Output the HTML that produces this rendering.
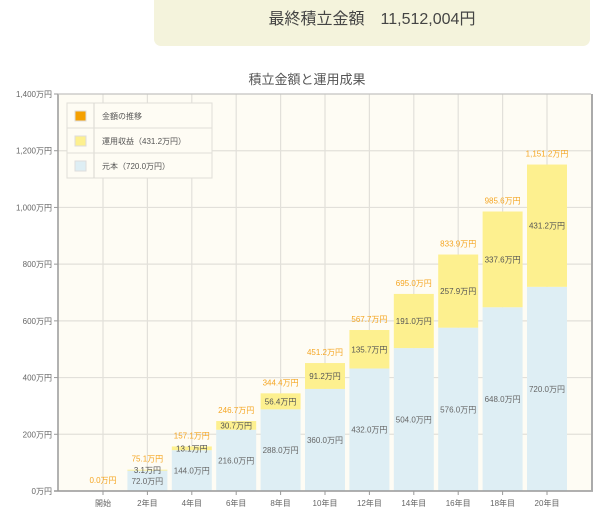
<!DOCTYPE html>
<html><head><meta charset="utf-8"><style>
body{margin:0;width:602px;height:520px;background:#fff;font-family:"Liberation Sans","Noto Sans CJK JP",sans-serif;overflow:hidden;position:relative}
#banner{position:absolute;left:154px;top:-8px;width:436px;height:54px;background:#f4f3dc;border-radius:7px;text-align:center;line-height:52px;padding-top:2px;box-sizing:border-box;font-size:16px;color:#444}
svg{position:absolute;left:0;top:0}
</style></head><body>
<div id="banner">最終積立金額　11,512,004円</div>
<svg id="chart" width="602" height="520"></svg>
<script>
const categories=["開始","2年目","4年目","6年目","8年目","10年目","12年目","14年目","16年目","18年目","20年目"];
const principal=[0,72,144,216,288,360,432,504,576,648,720];
const gains=[0,3.1,13.1,30.7,56.4,91.2,135.7,191.0,257.9,337.6,431.2];
const totals=[0,75.1,157.1,246.7,344.4,451.2,567.7,695.0,833.9,985.6,1151.2];
const yTicks=[0,200,400,600,800,1000,1200,1400];
const yTickLabels=["0万円","200万円","400万円","600万円","800万円","1,000万円","1,200万円","1,400万円"];
const legendLabels=["金額の推移","運用収益（431.2万円）","元本（720.0万円）"];

const NS="http://www.w3.org/2000/svg";
const svg=document.getElementById('chart');
const L=58,R=591,T=94,B=491,YMAX=1400;
const y=v=>B-v*(B-T)/YMAX;
const x=i=>103+i*44.4;
const BW=40;
function el(t,a,p){const e=document.createElementNS(NS,t);for(const k in a)e.setAttribute(k,a[k]);(p||svg).appendChild(e);return e;}
function tx(s,a){const e=el('text',a);e.textContent=s;return e;}
const fmt=v=>v.toLocaleString('en-US',{minimumFractionDigits:1,maximumFractionDigits:1})+"万円";

const title=tx("積立金額と運用成果",{x:307,y:84,'text-anchor':'middle','font-size':13,fill:'#555'});



const plot=el('rect',{x:L,y:T,width:R-L,height:B-T,fill:'#fefcf4'});



yTicks.forEach((v,i)=>{
  el('line',{x1:L,x2:R,y1:y(v),y2:y(v),stroke:'#e2e0da','stroke-width':1.2});
  const t=tx(yTickLabels[i],{x:52,y:y(v)+3,'text-anchor':'end','font-size':8,fill:'#666'});
  
  
  el('line',{x1:L-4,x2:L,y1:y(v),y2:y(v),stroke:'#999'});
});
categories.forEach((c,i)=>{
  el('line',{x1:x(i),x2:x(i),y1:T,y2:B,stroke:'#e2e0da','stroke-width':1.2});
});
categories.forEach((c,i)=>{
  const cx=x(i);
  if(principal[i]>0){
    const r=el('rect',{x:cx-BW/2,y:y(principal[i]),width:BW,height:B-y(principal[i]),fill:'#deeef4'});
    
    
  }
  if(gains[i]>0){
    const top=principal[i]+gains[i];
    const r=el('rect',{x:cx-BW/2,y:y(top),width:BW,height:y(principal[i])-y(top),fill:'#fdf08f'});
    
    
  }
  if(principal[i]>0){
    const t=tx(fmt(principal[i]),{x:cx,y:(y(principal[i])+B)/2+3,'text-anchor':'middle','font-size':8,fill:'#666'});
    
    
    const g=tx(fmt(gains[i]),{x:cx,y:(y(principal[i])+y(principal[i]+gains[i]))/2+3,'text-anchor':'middle','font-size':8,fill:'#555'});
    
    
  }
  const tt=tx(fmt(totals[i]),{x:cx,y:y(totals[i])-8,'text-anchor':'middle','font-size':8,fill:'#f5a623'});
  
  
  el('line',{x1:cx,x2:cx,y1:B,y2:B+4,stroke:'#999'});
  const xl=tx(c,{x:cx,y:506,'text-anchor':'middle','font-size':8,fill:'#666'});
  
  
});
el('line',{x1:L,x2:L,y1:T,y2:B,stroke:'#999','stroke-width':1.5});
el('line',{x1:L-4,x2:R+2,y1:B,y2:B,stroke:'#999','stroke-width':1.5});
el('line',{x1:R+1,x2:R+1,y1:T,y2:B,stroke:'#aaa','stroke-width':2});
el('line',{x1:L,x2:R,y1:T,y2:T,stroke:'#bbb','stroke-width':1});

const lg=el('g',{});


el('rect',{x:67,y:103,width:145,height:75,fill:'#fefcf4',stroke:'#e0ded8'},lg);
el('line',{x1:94,x2:94,y1:103,y2:178,stroke:'#d8d6d0'},lg);
const lcols=['#f5a000','#fdf08f','#deeef4'];
legendLabels.forEach((s,i)=>{
  const yy=103+i*25;
  if(i>0)el('line',{x1:67,x2:212,y1:yy,y2:yy,stroke:'#e0ded8'},lg);
  el('rect',{x:75,y:yy+8,width:11,height:10,fill:lcols[i],stroke:'#ddd'},lg);
  const t=el('text',{x:102,y:yy+16,'font-size':8,fill:'#555'},lg);
  t.textContent=s;
  
  
});
</script>
</body></html>
